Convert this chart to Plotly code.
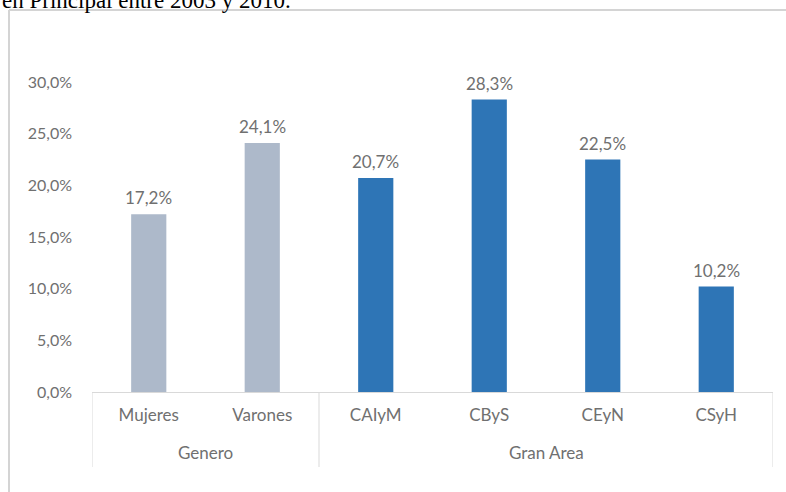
import plotly.graph_objects as go

# Two-level categories: group and sub-category
groups = ["Genero", "Genero", "Gran Area", "Gran Area", "Gran Area", "Gran Area"]
categories = ["Mujeres", "Varones", "CAIyM", "CByS", "CEyN", "CSyH"]
values = [17.2, 24.1, 20.7, 28.3, 22.5, 10.2]
bar_colors = ["#adb9ca", "#adb9ca", "#2e75b6", "#2e75b6", "#2e75b6", "#2e75b6"]

y_ticks = [0, 5, 10, 15, 20, 25, 30]

W, H = 786, 492
L, R, T, B = 92, 13, 82, 100
plot_w = W - L - R
plot_h = H - T - B


def px_x(px):
    return (px - L) / plot_w


def px_y(py):
    return (H - B - py) / plot_h


def pct(v):
    return f"{v:.1f}%".replace(".", ",")


TEXT = "#707070"
FONT = "Lato, 'Open Sans', sans-serif"
GRID = "#d9d9d9"

fig = go.Figure()
fig.add_trace(go.Bar(
    x=categories,
    y=values,
    marker=dict(color=bar_colors, line=dict(width=0)),
    width=0.31,
    hoverinfo="skip",
))

# value labels above each bar
for c, v in zip(categories, values):
    fig.add_annotation(
        x=c, y=v, text=pct(v), showarrow=False,
        xanchor="center", yanchor="bottom", yshift=4,
        font=dict(family=FONT, size=17, color=TEXT),
    )

# group labels and the dividers between groups
bounds = [-0.5]
for i in range(1, len(groups)):
    if groups[i] != groups[i - 1]:
        bounds.append(i - 0.5)
bounds.append(len(groups) - 0.5)

for b in bounds:
    fig.add_shape(type="line", xref="x", yref="paper",
                  x0=b, x1=b, y0=0, y1=px_y(467),
                  line=dict(color=GRID, width=1))

for a, b in zip(bounds[:-1], bounds[1:]):
    fig.add_annotation(
        x=(a + b) / 2, y=px_y(452), xref="x", yref="paper",
        text=groups[int(a + 0.5)], showarrow=False,
        xanchor="center", yanchor="middle",
        font=dict(family=FONT, size=17, color=TEXT),
    )

fig.update_layout(
    width=W, height=H,
    margin=dict(l=L, r=R, t=T, b=B),
    paper_bgcolor="white",
    plot_bgcolor="white",
    showlegend=False,
    xaxis=dict(
        type="category", range=[-0.5, len(categories) - 0.5],
        showline=True, linecolor=GRID, linewidth=1,
        showgrid=False, ticks="", ticklabelstandoff=8,
        tickfont=dict(family=FONT, size=17, color=TEXT),
    ),
    yaxis=dict(
        range=[0, 30], tickvals=y_ticks, ticktext=[pct(t) for t in y_ticks],
        showgrid=False, zeroline=False, showline=False,
        ticklabelstandoff=19,
        tickfont=dict(family=FONT, size=16, color=TEXT),
    ),
)

# outer frame of the chart (left and top edges)
frame = dict(type="line", xref="paper", yref="paper",
             line=dict(color="#d4d4d4", width=2))
fig.add_shape(x0=px_x(9), x1=px_x(9), y0=px_y(10), y1=px_y(H), **frame)
fig.add_shape(x0=px_x(9), x1=px_x(W), y0=px_y(10), y1=px_y(10), **frame)

# caption line above the chart
fig.add_annotation(
    text="en Principal entre 2003 y 2010.",
    xref="paper", yref="paper", x=px_x(0), y=px_y(0),
    xanchor="left", yanchor="middle", showarrow=False,
    font=dict(family="Liberation Serif, serif", size=23, color="black"),
)

fig.write_html("out.html")
